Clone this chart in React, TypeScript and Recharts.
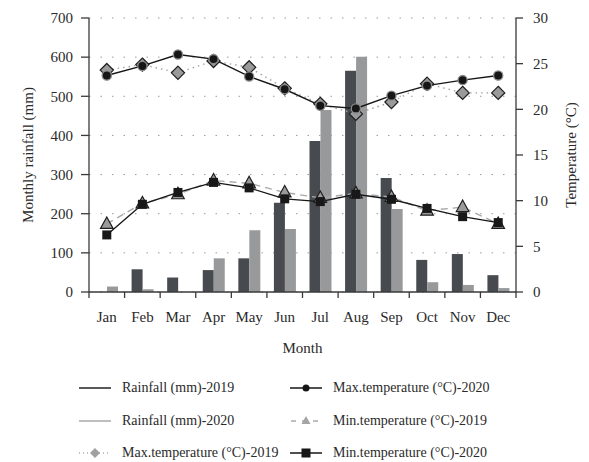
import React from 'react';
import { ComposedChart, Bar, Line, XAxis, YAxis, CartesianGrid, Legend } from 'recharts';

const months = ['Jan', 'Feb', 'Mar', 'Apr', 'May', 'Jun', 'Jul', 'Aug', 'Sep', 'Oct', 'Nov', 'Dec'];
const rain2019 = [0, 58, 37, 56, 86, 228, 386, 565, 291, 82, 97, 43];
const rain2020 = [14, 7, 0, 86, 158, 161, 465, 601, 212, 25, 18, 10];
const max2019 = [24.3, 24.9, 24.0, 25.3, 24.6, 22.3, 20.6, 19.5, 20.8, 22.8, 21.8, 21.8];
const max2020 = [23.7, 24.75, 26.0, 25.5, 23.6, 22.2, 20.4, 20.1, 21.5, 22.6, 23.2, 23.7];
const min2019 = [7.45, 9.7, 10.7, 12.2, 11.9, 10.9, 10.3, 10.8, 10.4, 8.9, 9.3, 7.45];
const min2020 = [6.25, 9.6, 10.9, 12.0, 11.4, 10.2, 9.9, 10.7, 10.15, 9.15, 8.25, 7.6];
const rainTicks = [0, 100, 200, 300, 400, 500, 600, 700];
const tempTicks = [0, 5, 10, 15, 20, 25, 30];

const data = months.map((m, i) => ({
  month: m,
  rain2019: rain2019[i],
  rain2020: rain2020[i],
  max2019: max2019[i],
  max2020: max2020[i],
  min2019: min2019[i],
  min2020: min2020[i],
}));

const FONT = '"Liberation Serif", "DejaVu Serif", serif';
const TEXT = '#2a2a2a';
const AXIS = '#3a3a3a';
const DARK_BAR = '#474b4f';
const LIGHT_BAR = '#98999b';

const XTick = (props: any) => {
  const { x, y, payload, index, visibleTicksCount } = props;
  const off = payload && payload.offset ? payload.offset : 17.8;
  const last = index === (visibleTicksCount ?? 12) - 1;
  return (
    <g>
      <line x1={x - off} x2={x - off} y1={y} y2={y + 6} stroke={AXIS} strokeWidth={1.3} />
      {last && <line x1={x + off} x2={x + off} y1={y} y2={y + 6} stroke={AXIS} strokeWidth={1.3} />}
      <text x={x} y={y + 30} textAnchor="middle" fill={TEXT} fontSize={15} fontFamily={FONT}>
        {payload.value}
      </text>
    </g>
  );
};

const CircleDot = (p: any) => {
  if (p.cx == null || p.cy == null) return <g key={p.index} />;
  return <circle key={p.index} cx={p.cx} cy={p.cy} r={4.6} fill="#161616" stroke="#8c8c8c" strokeWidth={1.3} />;
};
const DiamondDot = (p: any) => {
  if (p.cx == null || p.cy == null) return <g key={p.index} />;
  const s = 6.6;
  const { cx, cy } = p;
  return (
    <path key={p.index} d={`M${cx},${cy - s}L${cx + s},${cy}L${cx},${cy + s}L${cx - s},${cy}Z`} fill="#9a9a9a" stroke="#1e1e1e" strokeWidth={1.2} />
  );
};
const TriangleDot = (p: any) => {
  if (p.cx == null || p.cy == null) return <g key={p.index} />;
  const { cx, cy } = p;
  const w = 6.3;
  return (
    <path key={p.index} d={`M${cx},${cy - 7}L${cx + w},${cy + 4.5}L${cx - w},${cy + 4.5}Z`} fill="#9a9a9a" stroke="#1e1e1e" strokeWidth={1.2} />
  );
};
const SquareDot = (p: any) => {
  if (p.cx == null || p.cy == null) return <g key={p.index} />;
  const s = 4.5;
  return <rect key={p.index} x={p.cx - s} y={p.cy - s} width={2 * s} height={2 * s} fill="#181818" />;
};

const legendItems = [
  { label: 'Rainfall (mm)-2019', kind: 'r19' },
  { label: 'Max.temperature (°C)-2020', kind: 'x20' },
  { label: 'Rainfall (mm)-2020', kind: 'r20' },
  { label: 'Min.temperature (°C)-2019', kind: 'n19' },
  { label: 'Max.temperature (°C)-2019', kind: 'x19' },
  { label: 'Min.temperature (°C)-2020', kind: 'n20' },
];

const LegendSymbol = ({ kind }: { kind: string }) => {
  const W = 32;
  const H = 14;
  const c = 7;
  let el: React.ReactNode = null;
  if (kind === 'r19') el = <line x1={0} x2={W} y1={c} y2={c} stroke="#222" strokeWidth={1.5} />;
  if (kind === 'r20') el = <line x1={0} x2={W} y1={c} y2={c} stroke="#a8a8a8" strokeWidth={1.5} />;
  if (kind === 'x20')
    el = (
      <g>
        <line x1={0} x2={W} y1={c} y2={c} stroke="#161616" strokeWidth={1.5} />
        <circle cx={W / 2} cy={c} r={3.5} fill="#161616" />
      </g>
    );
  if (kind === 'n19')
    el = (
      <g>
        <line x1={0} x2={W} y1={c} y2={c} stroke="#aaa" strokeWidth={1.3} strokeDasharray="5 6" strokeDashoffset={-1} />
        <path d={`M${W / 2},${c - 5}L${W / 2 + 4.5},${c + 3}L${W / 2 - 4.5},${c + 3}Z`} fill="#a4a4a4" />
      </g>
    );
  if (kind === 'x19')
    el = (
      <g>
        <line x1={0} x2={W} y1={c} y2={c} stroke="#aaa" strokeWidth={1.3} strokeDasharray="1 3" />
        <path d={`M${W / 2},${c - 5}L${W / 2 + 5},${c}L${W / 2},${c + 5}L${W / 2 - 5},${c}Z`} fill="#a0a0a0" />
      </g>
    );
  if (kind === 'n20')
    el = (
      <g>
        <line x1={0} x2={W} y1={c} y2={c} stroke="#161616" strokeWidth={1.5} />
        <rect x={W / 2 - 4.5} y={c - 4.5} width={9} height={9} fill="#161616" />
      </g>
    );
  return (
    <svg width={W} height={H} style={{ display: 'block' }}>
      {el}
    </svg>
  );
};

const LegendContent = () => (
  <div style={{ position: 'relative', width: 589, height: 100, fontFamily: FONT, color: TEXT, fontSize: 14 }}>
    {legendItems.map((it, i) => {
      const col = i % 2;
      const row = Math.floor(i / 2);
      const left = col === 0 ? 79 : 290;
      const top = 10 + row * 32.5;
      return (
        <div
          key={it.label}
          style={{ position: 'absolute', left, top, height: 32, display: 'flex', alignItems: 'center', whiteSpace: 'nowrap' }}
        >
          <LegendSymbol kind={it.kind} />
          <span style={{ marginLeft: 11 }}>{it.label}</span>
        </div>
      );
    })}
  </div>
);

const LeftLabel = (props: any) => {
  const vb = props.viewBox || { x: 0, y: 18, width: 89, height: 274 };
  const cx = vb.x + 28;
  const cy = vb.y + vb.height / 2;
  return (
    <text x={cx} y={cy} transform={`rotate(-90 ${cx} ${cy})`} textAnchor="middle" dominantBaseline="central" fill={TEXT} fontSize={15} fontFamily={FONT}>
      Monthly rainfall (mm)
    </text>
  );
};
const RightLabel = (props: any) => {
  const vb = props.viewBox || { x: 516, y: 18, width: 73, height: 274 };
  const cx = vb.x + 55;
  const cy = vb.y + vb.height / 2;
  return (
    <text x={cx} y={cy} transform={`rotate(-90 ${cx} ${cy})`} textAnchor="middle" dominantBaseline="central" fill={TEXT} fontSize={15} fontFamily={FONT}>
      Temperature (°C)
    </text>
  );
};
const BottomLabel = (props: any) => {
  const vb = props.viewBox || { x: 89, y: 292, width: 427, height: 70 };
  return (
    <text x={vb.x + vb.width / 2} y={vb.y + 56} textAnchor="middle" dominantBaseline="central" fill={TEXT} fontSize={15} fontFamily={FONT}>
      Month
    </text>
  );
};

export default function App() {
  return (
    <div style={{ position: 'absolute', left: 0, top: 0, width: 589, height: 462, background: '#fff' }}>
      <ComposedChart
        width={589}
        height={462}
        data={data}
        margin={{ top: 18, right: 0, left: 0, bottom: 0 }}
        barGap={0}
        style={{ fontFamily: FONT }}
      >
        <CartesianGrid yAxisId="left" vertical={false} stroke="#9a9a9a" strokeDasharray="1.5 10" strokeWidth={1} />
        <XAxis
          dataKey="month"
          height={70}
          axisLine={{ stroke: AXIS, strokeWidth: 1.3 }}
          tickLine={false}
          tickSize={0}
          tickMargin={0}
          tick={<XTick />}
          interval={0}
          label={<BottomLabel />}
        />
        <YAxis
          yAxisId="left"
          orientation="left"
          width={89}
          domain={[0, 700]}
          ticks={rainTicks}
          interval={0}
          axisLine={{ stroke: AXIS, strokeWidth: 1.3 }}
          tickLine={{ stroke: AXIS, strokeWidth: 1.3 }}
          tickSize={8}
          tickMargin={8}
          tick={{ fill: TEXT, fontSize: 15, fontFamily: FONT }}
          label={<LeftLabel />}
        />
        <YAxis
          yAxisId="right"
          orientation="right"
          width={73}
          domain={[0, 30]}
          ticks={tempTicks}
          interval={0}
          axisLine={{ stroke: AXIS, strokeWidth: 1.3 }}
          tickLine={{ stroke: AXIS, strokeWidth: 1.3 }}
          tickSize={7}
          tickMargin={10}
          tick={{ fill: TEXT, fontSize: 15, fontFamily: FONT }}
          label={<RightLabel />}
        />
        <Legend
          verticalAlign="bottom"
          content={<LegendContent />}
          wrapperStyle={{ position: 'absolute', left: 0, top: 362, width: 589, height: 100 }}
        />
        <Bar yAxisId="left" dataKey="rain2019" name="Rainfall (mm)-2019" fill={DARK_BAR} barSize={11} isAnimationActive={false} />
        <Bar yAxisId="left" dataKey="rain2020" name="Rainfall (mm)-2020" fill={LIGHT_BAR} barSize={11} isAnimationActive={false} />
        <Line
          yAxisId="right"
          dataKey="min2019"
          name="Min.temperature (°C)-2019"
          stroke="#a8a8a8"
          strokeWidth={1.4}
          strokeDasharray="7 5"
          dot={TriangleDot}
          activeDot={false}
          isAnimationActive={false}
        />
        <Line
          yAxisId="right"
          dataKey="max2019"
          name="Max.temperature (°C)-2019"
          stroke="#a0a0a0"
          strokeWidth={1.4}
          strokeDasharray="1.5 4"
          dot={DiamondDot}
          activeDot={false}
          isAnimationActive={false}
        />
        <Line
          yAxisId="right"
          dataKey="min2020"
          name="Min.temperature (°C)-2020"
          stroke="#161616"
          strokeWidth={1.4}
          dot={SquareDot}
          activeDot={false}
          isAnimationActive={false}
        />
        <Line
          yAxisId="right"
          dataKey="max2020"
          name="Max.temperature (°C)-2020"
          stroke="#161616"
          strokeWidth={1.4}
          dot={CircleDot}
          activeDot={false}
          isAnimationActive={false}
        />
      </ComposedChart>
    </div>
  );
}
